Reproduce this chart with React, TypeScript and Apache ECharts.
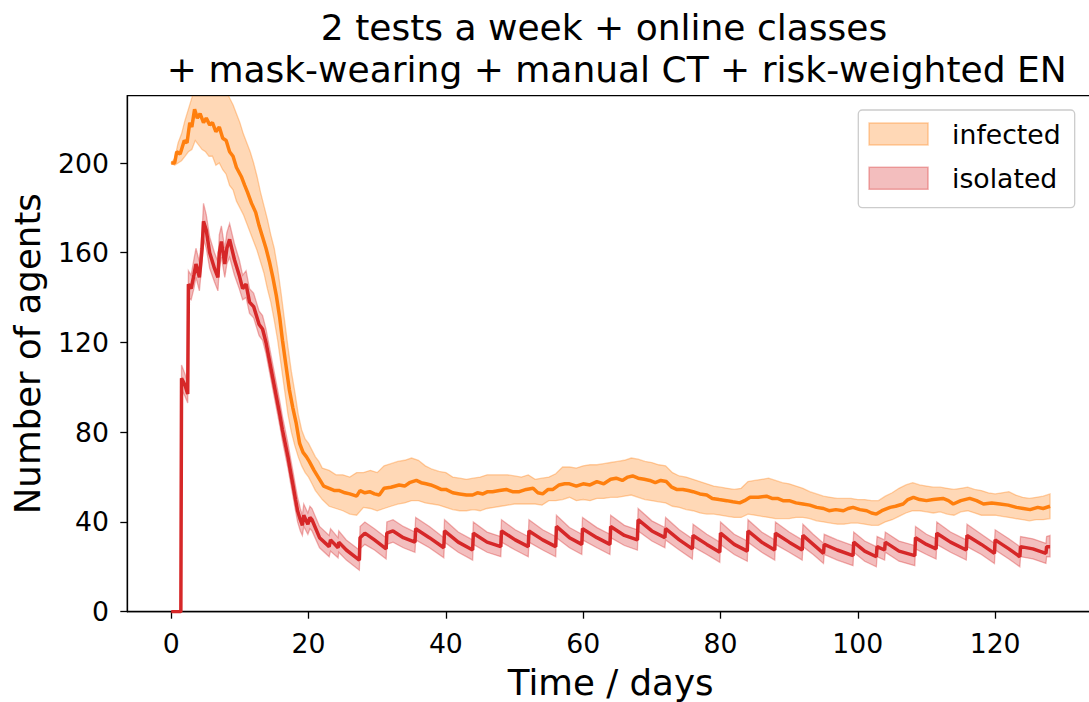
import React, { useEffect, useRef } from "react";
import * as echarts from "echarts";

// ---------- axis ticks ----------
const xTicks = [0, 20, 40, 60, 80, 100, 120];
const yTicks = [0, 40, 80, 120, 160, 200];

// ---------- infected: mean line ----------
const infT = [
  0, 0.5, 0.8, 1.3, 1.9, 2.3, 2.7, 3.0, 3.4, 3.8,
  4.2, 4.7, 5.1, 5.6, 6.0, 6.5, 7.0, 7.5, 8.0, 8.5,
  9.0, 9.5, 10.2, 10.7, 11.1, 11.7, 12.3, 12.8, 13.3, 13.8,
  14.3, 14.8, 15.3, 15.8, 16.2, 16.7, 17.2, 17.7, 18.2, 18.7,
  19.2, 19.7, 20.1, 20.8, 21.6, 22.2, 23.0, 23.8, 24.5, 25.3,
  26.0, 27.0, 27.5, 28.2, 28.9, 29.6, 30.3, 31.0, 32.0, 33.2,
  34.0, 34.7, 35.7, 36.4, 37.1, 37.8, 38.6, 39.3, 40.0, 41.0,
  42.0, 43.0, 43.9, 44.6, 45.4, 46.1, 46.8, 47.8, 48.8, 49.7,
  50.7, 51.7, 52.7, 53.4, 54.1, 54.9, 55.6, 56.5, 57.3, 58.0,
  59.0, 60.0, 61.0, 62.0, 63.0, 64.0, 64.8, 65.7, 66.5, 67.2,
  68.0, 68.9, 69.7, 70.5, 71.3, 72.1, 72.9, 73.6, 74.5, 75.3,
  76.0, 77.0, 78.0, 78.8, 79.8, 80.9, 81.8, 82.8, 83.5, 84.3,
  85.5, 86.7, 87.5, 88.3, 89.1, 90.0, 91.0, 92.0, 93.0, 94.0,
  95.0, 95.8, 96.8, 97.9, 98.6, 99.3, 100.3, 101.3, 102.0, 102.7,
  103.5, 104.7, 105.5, 106.6, 107.3, 108.1, 109.0, 110.0, 111.0, 112.4,
  113.2, 113.9, 115.0, 116.3, 117.3, 118.3, 119.5, 120.7, 121.9, 123.1,
  124.1, 125.1, 126.2, 127.0, 128.0,
];
const infMean = [
  200, 200, 205, 204, 210, 209, 218, 216, 224, 220,
  222, 218, 220, 217, 218, 214, 216, 211, 210, 205,
  203, 198, 194, 190, 187, 182, 178, 172, 167, 162,
  156, 149, 141, 131, 121, 110, 99, 91, 84, 75,
  71, 69, 67, 63, 59, 56, 55, 54, 54, 53,
  52.5, 51.5, 54, 53, 53.5, 52.5, 52, 55, 55.5, 56.5,
  56, 57.5, 58.5, 57.5, 57, 56.5, 55.5, 54.5, 54.5, 53,
  52.5, 52, 52, 53, 52.5, 53.5, 53.5, 54, 54.5, 53.5,
  53.5, 54.5, 55, 53, 52.5, 54.5, 54.5, 56.5, 57, 57,
  56, 57, 56.5, 58, 57, 59, 59.5, 58.5, 60, 60.5,
  59.5, 59, 58.5, 57.5, 58.5, 58, 55.5, 54.5, 54.5, 54,
  53.5, 52.5, 52, 50.5, 50, 49.5, 49, 48.5, 49.5, 51,
  51, 51.5, 50.5, 50.5, 49.5, 49.5, 48.5, 48, 47.5, 46.5,
  46, 45, 45.5, 45, 46, 46.5, 45.5, 45, 44, 43.5,
  45, 46.5, 47, 48, 50, 51, 50, 49.5, 50, 50.5,
  49.5, 48, 49.5, 50.5, 49.5, 48, 48.5, 48, 47.5, 46.5,
  46, 45.5, 46.5, 46, 47,
];

// ---------- infected: band ----------
const infBandT = [
  0, 0.5, 1, 1.5, 2, 2.5, 3, 3.5, 4, 4.5,
  5, 5.5, 6, 6.5, 7, 7.5, 8, 8.5, 9, 9.5,
  10, 10.5, 11, 11.5, 12, 12.5, 13, 13.5, 14, 14.5,
  15, 15.5, 16, 16.5, 17, 17.5, 18, 18.5, 19, 19.5,
  20, 20.5, 21, 21.5, 22, 23, 24, 25, 26, 27,
  28, 29, 30, 31, 32, 33, 34, 35, 36, 37,
  38, 39, 40, 41, 42, 43, 44, 45, 46, 47,
  48, 49, 50, 51, 52, 53, 54, 55, 56, 57,
  58, 59, 60, 61, 62, 63, 64, 65, 66, 67,
  68, 69, 70, 71, 72, 73, 74, 75, 76, 77,
  78, 79, 80, 81, 82, 83, 84, 85, 86, 87,
  88, 89, 90, 91, 92, 93, 94, 95, 96, 97,
  98, 99, 100, 101, 102, 103, 104, 105, 106, 107,
  108, 109, 110, 111, 112, 113, 114, 115, 116, 117,
  118, 119, 120, 121, 122, 123, 124, 125, 126, 127,
  128,
];
const infLo = [
  200, 199, 200, 201, 203, 205, 206, 210, 208, 206,
  205, 203, 203, 199, 200, 197, 195, 190, 188, 183,
  180, 177, 173, 169, 165, 161, 156, 151, 144, 138,
  130, 121, 110, 99, 88, 80, 74, 69, 65, 62,
  60, 57, 54, 52, 50, 47, 46, 45, 43.5, 43,
  46.5, 46, 45, 46, 47, 48, 48.5, 49.5, 49.5, 48.5,
  48, 47.5, 46.5, 45.5, 45, 45, 45.5, 45, 46, 46.5,
  47, 47.5, 48, 48, 48, 48, 47.5, 49.5, 49.5, 50,
  51, 49.5, 50, 49.5, 50.5, 50.5, 51, 51, 51.5, 52,
  51, 50, 49.5, 49, 48.5, 47, 46.5, 45.5, 45, 44,
  43.5, 43.5, 43, 42.5, 42, 42, 43.5, 43, 42.5, 42,
  41.5, 41.5, 41.5, 42, 42, 41.5, 40.5, 40, 39.5, 39,
  39, 39.5, 39.5, 39, 38.5, 38.5, 40, 41, 42.5, 44,
  45, 45, 44.5, 44, 44.5, 43.5, 43, 44.5, 45, 44,
  43, 43, 43, 42.5, 42, 41.5, 41, 40.5, 41, 41,
  41.5,
];
const infHi = [
  200, 202, 209, 213, 219, 224, 229, 235, 236, 236,
  237, 236, 236, 236, 236, 234, 232, 229, 226, 222,
  218, 213, 209, 205, 200, 194, 187, 181, 175, 168,
  162, 153, 142, 130, 118, 107, 98, 88, 81, 77,
  75, 72, 69, 67, 64, 63, 61, 61, 60, 62,
  62, 63, 62, 65, 66, 67, 67.5, 68.5, 67.5, 65,
  63.5, 62.5, 62, 60, 59.5, 59, 59.5, 60, 61, 61,
  61, 61, 60.5, 60, 61, 59, 59.5, 60, 61.5, 64.5,
  64.5, 64, 65, 65.5, 65.5, 66, 66.5, 67, 67.5, 68.5,
  68, 67, 66.5, 65.5, 65, 62, 60.5, 60, 59, 58,
  57, 56, 55.5, 55, 54.5, 55, 58, 58.5, 59, 59.5,
  58.5, 57.5, 57, 56, 55, 53.5, 52.5, 51.5, 51, 50.5,
  50.5, 50.5, 50, 50, 49.5, 49.5, 51.5, 53, 55, 56.5,
  57.5, 56.5, 56, 55.5, 55.5, 55, 54.5, 55, 55.5, 54.5,
  54, 53, 52.5, 53, 53.5, 52, 51, 50.5, 51, 51.5,
  52.5,
];

// ---------- isolated: mean and band ----------
const isoT = [
  0, 1.4, 1.5, 2.0, 2.4, 2.5, 2.9, 3.3, 3.6, 4.1,
  4.5, 4.7, 5.1, 5.6, 6.3, 6.8, 7.0, 7.3, 7.8, 8.1,
  8.5, 9.2, 9.9, 10.4, 10.9, 11.4, 12.0, 12.3, 12.8, 13.3,
  13.8, 14.3, 14.8, 15.3, 15.8, 16.2, 16.6, 17.0, 17.4, 17.7,
  18.1, 18.4, 18.8, 19.1, 19.3, 19.9, 20.2, 20.5, 21.6, 23.0,
  23.2, 24.3, 24.4, 25.5, 27.4, 27.5, 28.2, 29.6, 31.3, 31.4,
  32.3, 33.8, 35.5, 35.6, 37.6, 39.7, 39.8, 41.8, 43.9, 44.0,
  46.0, 48.0, 48.1, 50.1, 52.0, 52.1, 54.1, 56.0, 56.1, 58.0,
  59.8, 59.9, 62.0, 63.9, 64.0, 66.0, 67.9, 68.0, 70.0, 71.9,
  72.0, 74.0, 75.9, 76.0, 78.0, 79.9, 80.0, 82.0, 83.9, 84.0,
  86.0, 87.9, 88.0, 90.0, 91.9, 92.0, 93.5, 95.0, 95.1, 97.0,
  99.3, 99.4, 101.0, 102.7, 102.8, 103.9, 104.0, 106.0, 108.3, 108.4,
  110.0, 111.4, 111.5, 113.5, 115.8, 115.9, 118.0, 119.9, 120.0, 122.0,
  123.6, 123.7, 125.5, 127.4, 127.5, 128.0,
];
const isoMean = [
  0, 0, 104, 101, 97, 146, 144, 150, 155, 149,
  162, 174, 170, 160, 153, 149, 160, 165, 155, 162,
  166, 157, 150, 144, 146, 138, 136, 133, 128, 126,
  120, 112, 104, 96, 88, 81, 75, 69, 62, 57,
  50, 45, 41, 38.5, 43, 39, 42, 41, 33, 29,
  32, 28.5, 31, 27.5, 23, 33, 35, 32, 28, 35,
  36, 33, 31, 37, 33, 28.5, 36, 31, 27.5, 35,
  31, 29, 36, 32, 29, 36, 32, 29, 38, 33,
  30, 37, 33, 30, 38, 34, 32, 41, 36, 33,
  37, 32, 28, 34, 30, 26.5, 35, 30, 27, 36,
  31, 27.5, 35, 31, 27.5, 34, 30, 26, 30, 27.5,
  25, 31, 27, 24.5, 29, 27.5, 31, 27, 25, 33,
  30, 28, 35, 31, 27.5, 34, 30, 26, 32, 28,
  24.5, 29, 28, 26, 29, 29,
];
const isoLo = [
  0, 0, 99, 96, 93, 140, 139, 144, 149, 143,
  156, 166, 162, 153, 147, 143, 153, 158, 149, 155,
  158, 150, 144, 139, 140, 133, 131, 128, 123, 121,
  115, 107, 99, 91, 83, 76, 70, 64, 57, 52,
  45, 40, 36, 34, 38, 34.5, 37, 36, 28.5, 24.5,
  27, 24, 26.5, 23, 18.5, 28, 30, 27.5, 23.5, 30,
  31, 28.5, 26.5, 32, 28.5, 24, 31, 26.5, 23, 30,
  26.5, 24.5, 31, 27.5, 24.5, 31, 27.5, 24.5, 33, 28.5,
  25.5, 32, 28.5, 25.5, 33, 29.5, 27.5, 36, 31.5, 28.5,
  32, 27.5, 23.5, 29, 25.5, 22, 30, 25.5, 22.5, 31,
  26.5, 23, 30, 26.5, 23, 29, 25.5, 21.5, 25.5, 23,
  20.5, 26.5, 22.5, 20, 24.5, 23, 26.5, 22.5, 20.5, 28,
  25.5, 23.5, 30, 26.5, 23, 29, 25.5, 21.5, 27.5, 23.5,
  20, 24.5, 23.5, 21.5, 24.5, 24.5,
];
const isoHi = [
  0, 0, 110, 106, 102, 152, 150, 157, 162, 156,
  170, 182, 177, 167, 160, 156, 168, 172, 162, 169,
  173, 164, 157, 150, 152, 144, 142, 139, 134, 132,
  126, 118, 110, 102, 94, 87, 81, 75, 68, 63,
  56, 51, 46, 43, 48, 44, 47, 46, 38, 34,
  37, 33, 36, 32, 27.5, 38, 40, 37, 33, 40,
  41, 38, 35.5, 42, 38, 33, 41, 35.5, 32, 40,
  35.5, 33.5, 41, 36.5, 33.5, 41, 36.5, 33.5, 43, 37.5,
  34.5, 42, 37.5, 34.5, 43, 38.5, 36.5, 46, 40.5, 37.5,
  42, 36.5, 32.5, 39, 34.5, 31, 40, 34.5, 31.5, 41,
  35.5, 32, 40, 35.5, 32, 39, 34.5, 30.5, 34.5, 32,
  29.5, 35.5, 31.5, 29, 33.5, 32, 35.5, 31.5, 29.5, 38,
  34.5, 32.5, 40, 35.5, 32, 39, 34.5, 30.5, 36.5, 32.5,
  29, 33.5, 32.5, 30.5, 33.5, 34,
];

const titleLine1 = "2 tests a week + online classes";
const titleLine2 = "+ mask-wearing + manual CT + risk-weighted EN";

const FONT = "DejaVu Sans";
const ORANGE = "#ff7f0e";
const RED = "#d62728";
const ORANGE_FILL = "rgba(255,127,14,0.3)";
const RED_FILL = "rgba(214,39,40,0.3)";
const ORANGE_EDGE = "rgba(255,127,14,0.35)";
const RED_EDGE = "rgba(214,39,40,0.35)";

function zip(t: number[], v: number[]) {
  const n = Math.min(t.length, v.length);
  const out: number[][] = [];
  for (let i = 0; i < n; i++) out.push([t[i], v[i]]);
  return out;
}
function rows(t: number[], lo: number[], hi: number[]) {
  const n = Math.min(t.length, lo.length, hi.length);
  const out: number[][] = [];
  for (let i = 0; i < n; i++) out.push([t[i], lo[i], hi[i]]);
  return out;
}

// band drawn as one polygon through the axes' own scales (api.coord)
function bandSeries(name: string, t: number[], lo: number[], hi: number[], fill: string, edge: string) {
  const data = rows(t, lo, hi);
  return {
    type: "custom",
    name,
    data,
    silent: true,
    clip: true,
    itemStyle: { color: fill },
    encode: { x: 0, y: [1, 2] },
    renderItem: (params: any, api: any) => {
      if (params.dataIndex !== 0) return null;
      const pts: number[][] = [];
      for (let i = 0; i < data.length; i++) pts.push(api.coord([data[i][0], data[i][2]]));
      for (let i = data.length - 1; i >= 0; i--) pts.push(api.coord([data[i][0], data[i][1]]));
      const cs = params.coordSys;
      return {
        type: "polygon",
        shape: { points: pts },
        style: { fill, stroke: edge, lineWidth: 1.3 },
        clipPath: { type: "rect", shape: { x: cs.x, y: cs.y, width: cs.width, height: cs.height } },
      };
    },
  };
}

export default function App() {
  const ref = useRef<HTMLDivElement>(null);
  useEffect(() => {
    if (!ref.current) return;
    const chart = echarts.init(ref.current, null, { renderer: "svg" });
    const option: any = {
      animation: false,
      backgroundColor: "#ffffff",
      textStyle: { fontFamily: FONT, color: "#000" },
      grid: {
        left: 127.3,
        top: 95.7,
        right: 6,
        height: 516,
        outerBoundsMode: "none",
        containLabel: false,
        show: true,
        borderColor: "#000",
        borderWidth: 1.3,
        backgroundColor: "transparent",
      },
      graphic: [
        {
          type: "text",
          x: 604,
          y: 27.5,
          style: { text: titleLine1, fontSize: 36, fontFamily: FONT, fill: "#000", align: "center", verticalAlign: "middle" },
        },
        {
          type: "text",
          x: 616.7,
          y: 69.3,
          style: { text: titleLine2, fontSize: 36, fontFamily: FONT, fill: "#000", align: "center", verticalAlign: "middle" },
        },
      ],
      legend: {
        show: true,
        orient: "vertical",
        left: 858.3,
        top: 110,
        padding: [10.6, 14, 15.9, 10],
        itemWidth: 59,
        itemHeight: 22,
        itemGap: 17.1,
        selectedMode: false,
        borderColor: "#cccccc",
        borderWidth: 1.3,
        borderRadius: 4,
        backgroundColor: "rgba(255,255,255,0.8)",
        textStyle: { fontSize: 26.7, fontFamily: FONT, color: "#000", padding: [0, 0, 0, 19] },
        data: [
          { name: "infected", icon: "rect", itemStyle: { color: ORANGE_FILL, borderColor: ORANGE_EDGE, borderWidth: 1.5 } },
          { name: "isolated", icon: "rect", itemStyle: { color: RED_FILL, borderColor: RED_EDGE, borderWidth: 1.5 } },
        ],
      },
      xAxis: {
        type: "value",
        min: -6.4,
        max: 134.4,
        name: "Time / days",
        nameLocation: "middle",
        nameGap: 53,
        nameTextStyle: { fontSize: 35.6, fontFamily: FONT, color: "#000" },
        axisLine: { show: true, onZero: false, lineStyle: { color: "#000", width: 1.3 } },
        axisTick: { show: true, customValues: xTicks, length: 7, lineStyle: { color: "#000", width: 1.3 } },
        axisLabel: { show: true, customValues: xTicks, fontSize: 26.7, fontFamily: FONT, color: "#000", margin: 18.7 },
        splitLine: { show: false },
      },
      yAxis: {
        type: "value",
        min: 0,
        max: 230,
        name: "Number of agents",
        nameLocation: "middle",
        nameGap: 82,
        nameTextStyle: { fontSize: 35.6, fontFamily: FONT, color: "#000" },
        axisLine: { show: true, onZero: false, lineStyle: { color: "#000", width: 1.3 } },
        axisTick: { show: true, customValues: yTicks, length: 7, lineStyle: { color: "#000", width: 1.3 } },
        axisLabel: { show: true, customValues: yTicks, fontSize: 26.7, fontFamily: FONT, color: "#000", margin: 18.3 },
        splitLine: { show: false },
      },
      series: [
        bandSeries("infected", infBandT, infLo, infHi, ORANGE_FILL, ORANGE_EDGE),
        {
          type: "line",
          name: "infected mean",
          data: zip(infT, infMean),
          symbol: "none",
          silent: true,
          lineStyle: { color: ORANGE, width: 3.5 },
          itemStyle: { color: ORANGE },
        },
        bandSeries("isolated", isoT, isoLo, isoHi, RED_FILL, RED_EDGE),
        {
          type: "line",
          name: "isolated mean",
          data: zip(isoT, isoMean),
          symbol: "none",
          silent: true,
          lineStyle: { color: RED, width: 3.5 },
          itemStyle: { color: RED },
        },
      ],
    };
    chart.setOption(option);
    return () => chart.dispose();
  }, []);
  return (
    <div
      ref={ref}
      style={{ position: "fixed", left: 0, top: 0, width: 1100, height: 760, background: "#fff" }}
    />
  );
}
